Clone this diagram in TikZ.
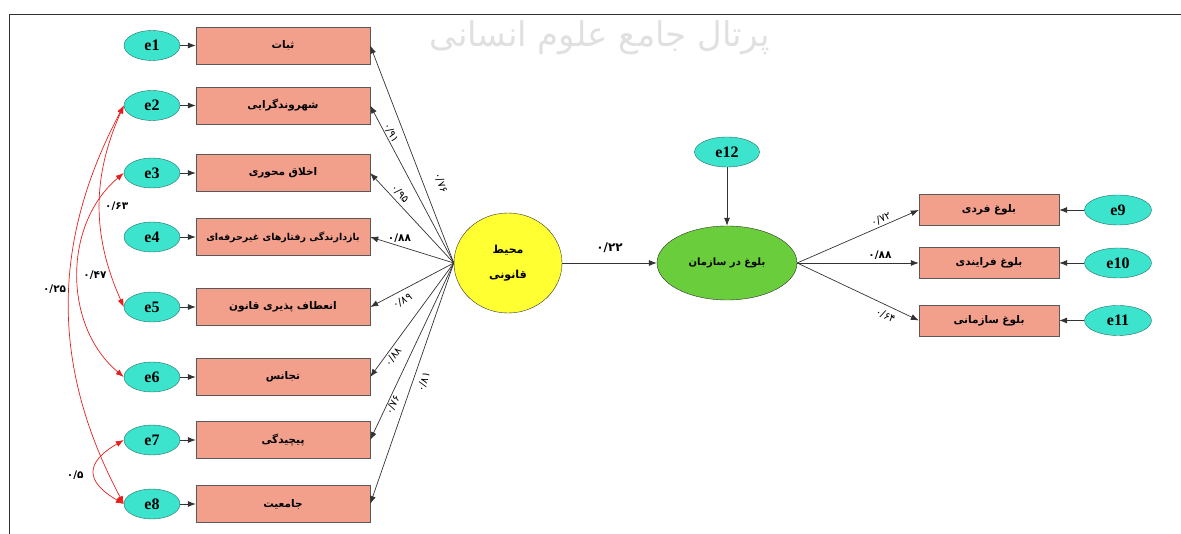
\documentclass[tikz,border=0pt]{standalone}
\usepackage{fontspec}
\setmainfont{Liberation Serif}
\newfontfamily\arabicfont[Script=Arabic]{DejaVu Sans}
\TeXXeTstate=1
\usetikzlibrary{shapes.geometric,arrows.meta}

\definecolor{boxsalmon}{RGB}{242,160,140}
\definecolor{errcyan}{RGB}{60,228,206}
\definecolor{errline}{RGB}{30,110,100}
\definecolor{latyellow}{RGB}{255,255,50}
\definecolor{latgreen}{RGB}{105,205,60}
\definecolor{covred}{RGB}{230,30,30}

\newcommand{\fatext}[1]{{\arabicfont\bfseries\beginR #1\endR}}
\newcommand{\fanum}[1]{{\arabicfont #1}}
\newcommand{\fanumb}[1]{{\arabicfont\bfseries #1}}

\tikzset{
  itembox/.style={draw=black!65, fill=boxsalmon, minimum width=174pt, minimum height=37pt, inner sep=0pt, font=\fontsize{10.5}{12}\selectfont},
  outbox/.style={draw=black!65, fill=boxsalmon, minimum width=140pt, minimum height=31pt, inner sep=0pt, font=\fontsize{10.5}{12}\selectfont},
  errnode/.style={ellipse, draw=errline, fill=errcyan, minimum width=56pt, minimum height=30pt, inner sep=0pt, font=\bfseries\fontsize{16}{16}\selectfont},
  loadarrow/.style={-{Latex[length=8pt,width=6pt]}, draw=black!80, line width=0.7pt},
  covarrow/.style={{Latex[length=8pt,width=6pt]}-{Latex[length=8pt,width=6pt]}, draw=covred, line width=0.7pt},
  coef/.style={inner sep=1pt, font=\fontsize{10.5}{10.5}\selectfont},
}

\begin{document}
\begin{tikzpicture}[x=1pt,y=-1pt]
  \useasboundingbox (0,0) rectangle (1181,534);
  % frame and watermark
  \draw[black!80, line width=0.8pt] (9,534) -- (9,14) -- (1181,14);
  \node[text=black!12, font=\arabicfont\fontsize{34}{34}\selectfont] (wmark) at (600,38) {\beginR پرتال جامع علوم انسانی\endR};

  % indicators
  \node[itembox] (b1) at (283,45.5) {\fatext{ثبات}};
  \node[itembox] (b2) at (283,105.5) {\fatext{شهروندگرایی}};
  \node[itembox] (b3) at (283,173) {\fatext{اخلاق محوری}};
  \node[itembox, font=\fontsize{9.5}{12}\selectfont] (b4) at (283,237) {\fatext{بازدارندگی رفتارهای غیرحرفه‌ای}};
  \node[itembox] (b5) at (283,307) {\fatext{انعطاف پذیری قانون}};
  \node[itembox] (b6) at (283,377) {\fatext{تجانس}};
  \node[itembox] (b7) at (283,440) {\fatext{پیچیدگی}};
  \node[itembox] (b8) at (283,504) {\fatext{جامعیت}};

  \node[errnode] (e1) at (152,45.5) {e1};
  \node[errnode] (e2) at (152,105.5) {e2};
  \node[errnode] (e3) at (152,173) {e3};
  \node[errnode] (e4) at (152,237) {e4};
  \node[errnode] (e5) at (152,307) {e5};
  \node[errnode] (e6) at (152,377) {e6};
  \node[errnode] (e7) at (152,440) {e7};
  \node[errnode] (e8) at (152,504) {e8};

  \draw[loadarrow] (e1) -- (b1);
  \draw[loadarrow] (e2) -- (b2);
  \draw[loadarrow] (e3) -- (b3);
  \draw[loadarrow] (e4) -- (b4);
  \draw[loadarrow] (e5) -- (b5);
  \draw[loadarrow] (e6) -- (b6);
  \draw[loadarrow] (e7) -- (b7);
  \draw[loadarrow] (e8) -- (b8);

  % covariances
  \draw[covarrow] (e2.west) to[bend right=24] node[coef, pos=0.5, right=4pt] {\fanumb{۰/۶۳}} (e5.west);
  \draw[covarrow] (e3.west) to[bend right=50] node[coef, pos=0.5, right=4pt] {\fanumb{۰/۴۷}} (e6.west);
  \draw[covarrow] (e2.west) to[bend right=28] node[coef, pos=0.46, left=2pt] {\fanumb{۰/۲۵}} (e8.west);
  \draw[covarrow] (e7.west) to[bend right=60, looseness=1.8] node[coef, pos=0.55, left=10pt] {\fanumb{۰/۵}} (e8.west);

  % latent variables
  \node[ellipse, draw=black!80, fill=latyellow, minimum width=108pt, minimum height=100pt, inner sep=0pt, align=center, font=\fontsize{11}{13}\selectfont] (pm) at (508,263) {\fatext{محیط}\\[12pt]\fatext{قانونی}};
  \node[ellipse, draw=black!80, fill=latgreen, minimum width=140pt, minimum height=74pt, inner sep=0pt, font=\fontsize{10}{12}\selectfont] (gm) at (727,263) {\fatext{بلوغ در سازمان}};
  \node[errnode, minimum width=65pt] (e12) at (727,152) {e12};

  \draw[loadarrow] (pm.west) -- (b1.east) node[coef, sloped, pos=0.34, above=11pt] {\fanum{۰/۷۶}};
  \draw[loadarrow] (pm.west) -- (b2.east) node[coef, sloped, pos=0.81, above=0pt] {\fanum{۰/۹۱}};
  \draw[loadarrow] (pm.west) -- (b3.east) node[coef, sloped, pos=0.71, above=2pt] {\fanum{۰/۹۵}};
  \draw[loadarrow] (pm.west) -- (b4.east) node[coef, pos=0.65, above=2pt] {\fanumb{۰/۸۸}};
  \draw[loadarrow] (pm.west) -- (b5.east) node[coef, sloped, pos=0.67, below=4pt] {\fanum{۰/۸۹}};
  \draw[loadarrow] (pm.west) -- (b6.east) node[coef, sloped, pos=0.79, below=1pt] {\fanum{۰/۸۸}};
  \draw[loadarrow] (pm.west) -- (b7.east) node[coef, sloped, pos=0.79, below=0pt] {\fanum{۰/۷۶}};
  \draw[loadarrow] (pm.west) -- (b8.east) node[coef, sloped, pos=0.48, below=5pt] {\fanum{۰/۸۱}};

  \draw[loadarrow] (pm) -- (gm) node[coef, midway, above=9pt, font=\fontsize{12}{12}\selectfont] {\fanumb{۰/۲۲}};
  \draw[loadarrow] (e12) -- (gm);

  % maturity indicators
  \node[outbox] (r1) at (989,210) {\fatext{بلوغ فردی}};
  \node[outbox] (r2) at (989,263) {\fatext{بلوغ فرایندی}};
  \node[outbox] (r3) at (989,320.5) {\fatext{بلوغ سازمانی}};
  \node[errnode, minimum width=67pt] (e9) at (1118,210) {e9};
  \node[errnode, minimum width=67pt] (e10) at (1118,263) {e10};
  \node[errnode, minimum width=67pt] (e11) at (1118,320.5) {e11};

  \draw[loadarrow] (gm.east) -- (r1.west) node[coef, sloped, pos=0.71, above=1pt] {\fanum{۰/۷۲}};
  \draw[loadarrow] (gm.east) -- (r2.west) node[coef, pos=0.68, above=2pt] {\fanumb{۰/۸۸}};
  \draw[loadarrow] (gm.east) -- (r3.west) node[coef, sloped, pos=0.76, below=4pt] {\fanum{۰/۶۴}};
  \draw[loadarrow] (e9) -- (r1);
  \draw[loadarrow] (e10) -- (r2);
  \draw[loadarrow] (e11) -- (r3);
\end{tikzpicture}
\end{document}
